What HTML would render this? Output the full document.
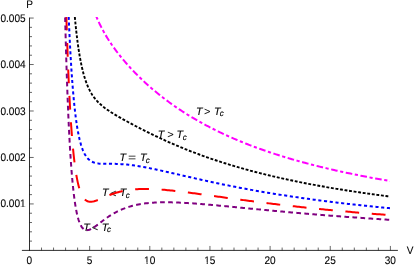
<!DOCTYPE html>
<html><head><meta charset="utf-8"><title>P-V isotherms</title>
<style>
html,body{margin:0;padding:0;background:#fff;}
body{width:415px;height:265px;overflow:hidden;}
svg{display:block;will-change:transform;}
text{font-family:"Liberation Sans",sans-serif;font-size:11.0px;fill:#000;text-rendering:geometricPrecision;stroke:#000;stroke-width:0.1px;}
.it{font-style:italic;font-size:10.7px;stroke-width:0.12px;}
.sub{font-size:8.2px;}
</style></head><body>
<svg width="415" height="265" viewBox="0 0 415 265">
<rect width="415" height="265" fill="#fff"/>
<defs><clipPath id="cp"><rect x="20" y="17" width="369.9" height="240"/></clipPath></defs>
<g>
<text class="it" x="195.89" y="114.60">T</text><text class="it" transform="translate(204.09,115.15) scale(1.0,1)">&gt;</text><text class="it" x="213.99" y="114.60">T</text><text class="it sub" x="219.80" y="116.30">c</text><text class="it" x="157.76" y="137.90">T</text><text class="it" transform="translate(167.19,138.45) scale(1.0,1)">&gt;</text><text class="it" x="176.39" y="137.90">T</text><text class="it sub" x="182.75" y="139.60">c</text><text class="it" x="119.42" y="160.85">T</text><text class="it" transform="translate(127.96,161.05) scale(1.25,1)">=</text><text class="it" x="139.97" y="160.85">T</text><text class="it sub" x="145.63" y="162.55">c</text><text class="it" x="101.89" y="195.90">T</text><text class="it" transform="translate(109.99,196.90) scale(1.0,1)">&lt;</text><text class="it" x="119.69" y="195.90">T</text><text class="it sub" x="125.76" y="197.60">c</text><text class="it" x="83.15" y="230.70">T</text><text class="it" transform="translate(91.87,231.05) scale(1.0,1)">&lt;</text><text class="it" x="101.71" y="230.70">T</text><text class="it sub" x="107.02" y="232.40">c</text>
</g>
<g fill="none" stroke-linecap="butt" stroke-linejoin="round" clip-path="url(#cp)">
<path d="M96.20,16.21L96.78,17.60 97.38,18.98 97.99,20.36 98.62,21.73 99.26,23.09 99.91,24.45 100.58,25.80 101.26,27.15 101.95,28.49 102.66,29.82 103.38,31.14 104.11,32.46 104.86,33.77 105.61,35.07 106.39,36.36 107.17,37.65 107.97,38.93 108.77,40.20 109.59,41.47 110.42,42.72 111.26,43.98 112.12,45.22 112.98,46.45 113.85,47.68 114.74,48.90 115.63,50.12 116.53,51.32 117.44,52.52 118.36,53.72 119.29,54.90 120.23,56.08 121.18,57.25 122.14,58.42 123.10,59.58 124.07,60.73 125.05,61.87 126.04,63.01 127.03,64.15 128.03,65.27 129.04,66.39 130.06,67.50 131.08,68.61 132.11,69.71 133.15,70.80 134.19,71.89 135.24,72.97 136.30,74.04 137.36,75.11 138.43,76.17 139.51,77.23 140.59,78.28 141.68,79.32 142.77,80.36 143.87,81.39 144.98,82.41 146.09,83.43 147.21,84.44 148.33,85.45 149.46,86.45 150.59,87.44 151.73,88.42 152.88,89.40 154.03,90.38 155.18,91.34 156.35,92.30 157.51,93.26 158.68,94.21 159.86,95.15 161.04,96.08 162.23,97.01 163.42,97.93 164.62,98.85 165.82,99.76 167.03,100.66 168.24,101.56 169.45,102.45 170.67,103.33 171.90,104.21 173.13,105.08 174.36,105.95 175.60,106.81 176.84,107.66 178.09,108.50 179.34,109.34 180.60,110.18 181.86,111.00 183.12,111.82 184.39,112.64 185.66,113.45 186.94,114.25 188.22,115.04 189.50,115.83 190.79,116.61 192.08,117.39 193.38,118.16 194.68,118.93 195.98,119.68 197.28,120.44 198.59,121.18 199.91,121.92 201.22,122.66 202.54,123.38 203.87,124.11 205.19,124.82 206.52,125.53 207.85,126.24 209.19,126.94 210.53,127.63 211.87,128.32 213.21,129.00 214.56,129.67 215.91,130.34 217.26,131.01 218.62,131.66 219.98,132.32 221.34,132.96 222.70,133.61 224.07,134.24 225.43,134.87 226.81,135.50 228.18,136.12 229.55,136.74 230.93,137.35 232.31,137.95 233.70,138.55 235.08,139.14 236.47,139.73 237.86,140.32 239.25,140.90 240.64,141.47 242.04,142.04 243.43,142.60 244.83,143.16 246.23,143.72 247.64,144.27 249.04,144.81 250.45,145.35 251.86,145.89 253.27,146.42 254.68,146.95 256.09,147.47 257.51,147.99 258.93,148.50 260.34,149.01 261.76,149.52 263.19,150.02 264.61,150.51 266.03,151.01 267.46,151.49 268.89,151.98 270.31,152.46 271.74,152.93 273.18,153.40 274.61,153.87 276.04,154.34 277.48,154.80 278.91,155.25 280.35,155.70 281.79,156.15 283.23,156.60 284.67,157.04 286.11,157.47 287.56,157.91 289.00,158.34 290.45,158.76 291.89,159.19 293.34,159.61 294.79,160.02 296.24,160.44 297.69,160.84 299.14,161.25 300.59,161.65 302.05,162.05 303.50,162.45 304.95,162.84 306.41,163.23 307.87,163.62 309.32,164.00 310.78,164.38 312.24,164.76 313.70,165.13 315.16,165.50 316.62,165.87 318.09,166.24 319.55,166.60 321.01,166.96 322.48,167.31 323.94,167.67 325.41,168.02 326.87,168.37 328.34,168.71 329.81,169.06 331.28,169.40 332.74,169.73 334.21,170.07 335.68,170.40 337.15,170.73 338.63,171.06 340.10,171.38 341.57,171.71 343.04,172.03 344.51,172.34 345.99,172.66 347.46,172.97 348.94,173.28 350.41,173.59 351.89,173.89 353.36,174.20 354.84,174.50 356.32,174.80 357.80,175.09 359.27,175.39 360.75,175.68 362.23,175.97 363.71,176.26 365.19,176.55 366.67,176.83 368.15,177.11 369.63,177.39 371.11,177.67 372.59,177.94 374.08,178.22 375.56,178.49 377.04,178.76 378.52,179.03 380.01,179.29 381.49,179.56 382.98,179.82 384.46,180.08 385.94,180.34 387.43,180.59 388.91,180.85 390.40,181.10" stroke="#ff00ff" stroke-width="2.0" stroke-dasharray="3.2 2.588 6.6 2.588" stroke-dashoffset="14.576"/>
<path d="M74.76,16.06L74.90,17.56 75.04,19.06 75.18,20.56 75.32,22.07 75.47,23.57 75.62,25.07 75.78,26.57 75.93,28.07 76.09,29.57 76.26,31.07 76.43,32.57 76.60,34.06 76.78,35.56 76.96,37.06 77.14,38.56 77.33,40.05 77.52,41.55 77.72,43.04 77.92,44.54 78.13,46.03 78.35,47.53 78.57,49.02 78.79,50.51 79.03,52.00 79.27,53.49 79.51,54.98 79.77,56.46 80.03,57.95 80.30,59.43 80.59,60.91 80.88,62.40 81.18,63.87 81.49,65.35 81.81,66.82 82.15,68.29 82.49,69.76 82.86,71.23 83.23,72.69 83.62,74.14 84.03,75.59 84.46,77.04 84.91,78.48 85.38,79.91 85.87,81.34 86.38,82.76 86.92,84.17 87.49,85.57 88.08,86.95 88.71,88.32 89.37,89.68 90.06,91.02 90.79,92.34 91.55,93.64 92.36,94.92 93.20,96.17 94.08,97.39 95.00,98.59 95.96,99.75 96.96,100.88 97.99,101.98 99.06,103.05 100.16,104.08 101.29,105.08 102.44,106.06 103.61,107.00 104.81,107.92 106.03,108.81 107.26,109.69 108.50,110.54 109.76,111.37 111.02,112.19 112.30,113.00 113.58,113.79 114.87,114.57 116.17,115.34 117.47,116.11 118.77,116.86 120.08,117.61 121.40,118.35 122.71,119.09 124.03,119.82 125.35,120.55 126.68,121.27 128.00,121.99 129.33,122.70 130.66,123.42 131.99,124.12 133.33,124.83 134.66,125.53 136.00,126.23 137.34,126.93 138.68,127.62 140.02,128.31 141.36,128.99 142.71,129.68 144.05,130.36 145.40,131.03 146.75,131.71 148.10,132.38 149.46,133.05 150.81,133.71 152.17,134.37 153.52,135.03 154.88,135.68 156.25,136.33 157.61,136.97 158.97,137.62 160.34,138.25 161.71,138.89 163.08,139.52 164.45,140.15 165.82,140.77 167.20,141.39 168.58,142.01 169.96,142.62 171.34,143.22 172.72,143.83 174.10,144.43 175.49,145.02 176.88,145.61 178.27,146.20 179.66,146.78 181.05,147.36 182.44,147.94 183.84,148.51 185.24,149.07 186.64,149.64 188.04,150.19 189.44,150.75 190.85,151.30 192.25,151.84 193.66,152.38 195.07,152.92 196.48,153.45 197.89,153.98 199.31,154.51 200.72,155.03 202.14,155.55 203.56,156.06 204.98,156.57 206.40,157.07 207.82,157.57 209.25,158.07 210.67,158.56 212.10,159.05 213.53,159.53 214.96,160.01 216.39,160.49 217.82,160.96 219.26,161.43 220.69,161.90 222.13,162.36 223.57,162.82 225.00,163.27 226.44,163.72 227.88,164.17 229.33,164.61 230.77,165.05 232.21,165.48 233.66,165.92 235.11,166.34 236.55,166.77 238.00,167.19 239.45,167.61 240.90,168.02 242.35,168.43 243.80,168.84 245.26,169.24 246.71,169.64 248.17,170.04 249.62,170.43 251.08,170.83 252.54,171.21 254.00,171.60 255.46,171.98 256.92,172.36 258.38,172.73 259.84,173.10 261.30,173.47 262.77,173.84 264.23,174.20 265.69,174.56 267.16,174.91 268.63,175.27 270.09,175.62 271.56,175.97 273.03,176.31 274.50,176.65 275.97,176.99 277.44,177.33 278.91,177.66 280.38,178.00 281.85,178.32 283.33,178.65 284.80,178.97 286.27,179.29 287.75,179.61 289.22,179.93 290.70,180.24 292.17,180.55 293.65,180.86 295.13,181.17 296.61,181.47 298.08,181.77 299.56,182.07 301.04,182.36 302.52,182.66 304.00,182.95 305.48,183.24 306.96,183.52 308.44,183.81 309.93,184.09 311.41,184.37 312.89,184.65 314.37,184.93 315.86,185.20 317.34,185.47 318.82,185.74 320.31,186.01 321.79,186.27 323.28,186.54 324.76,186.80 326.25,187.06 327.74,187.32 329.22,187.57 330.71,187.82 332.20,188.08 333.68,188.33 335.17,188.57 336.66,188.82 338.15,189.06 339.64,189.31 341.13,189.55 342.62,189.79 344.11,190.02 345.60,190.26 347.09,190.49 348.58,190.73 350.07,190.96 351.56,191.18 353.05,191.41 354.54,191.64 356.03,191.86 357.52,192.08 359.02,192.30 360.51,192.52 362.00,192.74 363.49,192.96 364.99,193.17 366.48,193.38 367.97,193.59 369.47,193.80 370.96,194.01 372.46,194.22 373.95,194.42 375.44,194.63 376.94,194.83 378.43,195.03 379.93,195.23 381.42,195.43 382.92,195.63 384.42,195.82 385.91,196.02 387.41,196.21 388.90,196.40 390.40,196.59" stroke="#000000" stroke-width="1.9" stroke-dasharray="2.9 1.6965" stroke-dashoffset="3.646"/>
<path d="M68.66,16.05L68.73,17.56 68.79,19.07 68.86,20.58 68.92,22.08 68.99,23.59 69.05,25.10 69.12,26.61 69.19,28.12 69.26,29.62 69.33,31.13 69.40,32.64 69.47,34.15 69.54,35.65 69.61,37.16 69.69,38.67 69.76,40.18 69.84,41.68 69.91,43.19 69.99,44.70 70.07,46.21 70.15,47.71 70.23,49.22 70.31,50.73 70.39,52.24 70.48,53.74 70.56,55.25 70.65,56.76 70.73,58.26 70.82,59.77 70.91,61.28 71.00,62.78 71.10,64.29 71.19,65.80 71.28,67.30 71.38,68.81 71.48,70.32 71.58,71.82 71.68,73.33 71.78,74.83 71.89,76.34 72.00,77.85 72.11,79.35 72.22,80.86 72.33,82.36 72.44,83.87 72.56,85.37 72.68,86.88 72.80,88.38 72.92,89.89 73.05,91.39 73.18,92.89 73.31,94.40 73.44,95.90 73.58,97.40 73.72,98.91 73.86,100.41 74.01,101.91 74.16,103.41 74.31,104.92 74.47,106.42 74.63,107.92 74.80,109.42 74.97,110.92 75.14,112.42 75.32,113.92 75.51,115.41 75.70,116.91 75.89,118.41 76.10,119.90 76.30,121.40 76.52,122.89 76.74,124.39 76.97,125.88 77.21,127.37 77.46,128.86 77.72,130.34 77.99,131.83 78.27,133.31 78.57,134.79 78.87,136.27 79.20,137.74 79.53,139.22 79.89,140.68 80.27,142.14 80.67,143.60 81.09,145.05 81.55,146.49 82.03,147.92 82.55,149.33 83.11,150.73 83.72,152.12 84.39,153.47 85.11,154.79 85.91,156.08 86.79,157.30 87.76,158.46 88.83,159.52 89.99,160.48 91.26,161.31 92.60,161.99 94.01,162.54 95.46,162.96 96.93,163.27 98.43,163.48 99.93,163.63 101.44,163.72 102.94,163.77 104.45,163.80 105.96,163.81 107.47,163.82 108.98,163.82 110.49,163.82 112.00,163.83 113.51,163.85 115.02,163.87 116.53,163.92 118.04,163.97 119.54,164.04 121.05,164.13 122.56,164.23 124.06,164.35 125.57,164.48 127.07,164.62 128.57,164.78 130.07,164.95 131.57,165.13 133.06,165.33 134.56,165.54 136.05,165.76 137.54,165.99 139.03,166.23 140.52,166.48 142.01,166.73 143.50,167.00 144.98,167.27 146.46,167.55 147.95,167.84 149.43,168.13 150.91,168.42 152.39,168.73 153.86,169.03 155.34,169.34 156.82,169.66 158.29,169.98 159.77,170.30 161.24,170.62 162.72,170.95 164.19,171.28 165.66,171.61 167.13,171.94 168.61,172.28 170.08,172.61 171.55,172.95 173.02,173.28 174.49,173.62 175.96,173.96 177.43,174.30 178.90,174.64 180.38,174.98 181.85,175.32 183.32,175.66 184.79,175.99 186.26,176.33 187.73,176.67 189.20,177.01 190.67,177.34 192.15,177.68 193.62,178.01 195.09,178.35 196.56,178.68 198.03,179.01 199.51,179.34 200.98,179.67 202.45,179.99 203.93,180.32 205.40,180.64 206.88,180.97 208.35,181.29 209.83,181.61 211.30,181.93 212.78,182.24 214.25,182.56 215.73,182.87 217.21,183.18 218.68,183.49 220.16,183.80 221.64,184.11 223.12,184.41 224.60,184.72 226.08,185.02 227.56,185.32 229.04,185.61 230.52,185.91 232.00,186.20 233.48,186.50 234.96,186.79 236.44,187.07 237.92,187.36 239.40,187.65 240.89,187.93 242.37,188.21 243.85,188.49 245.34,188.77 246.82,189.04 248.31,189.31 249.79,189.59 251.28,189.86 252.76,190.12 254.25,190.39 255.73,190.65 257.22,190.92 258.71,191.18 260.19,191.44 261.68,191.69 263.17,191.95 264.66,192.20 266.15,192.45 267.63,192.70 269.12,192.95 270.61,193.20 272.10,193.44 273.59,193.69 275.08,193.93 276.57,194.17 278.06,194.41 279.55,194.64 281.04,194.88 282.54,195.11 284.03,195.34 285.52,195.57 287.01,195.80 288.50,196.02 290.00,196.25 291.49,196.47 292.98,196.69 294.47,196.91 295.97,197.13 297.46,197.35 298.96,197.57 300.45,197.78 301.94,197.99 303.44,198.20 304.93,198.41 306.43,198.62 307.92,198.83 309.42,199.03 310.92,199.24 312.41,199.44 313.91,199.64 315.40,199.84 316.90,200.04 318.40,200.23 319.89,200.43 321.39,200.62 322.89,200.81 324.38,201.01 325.88,201.20 327.38,201.38 328.88,201.57 330.38,201.76 331.87,201.94 333.37,202.12 334.87,202.31 336.37,202.49 337.87,202.67 339.37,202.85 340.87,203.02 342.36,203.20 343.86,203.37 345.36,203.55 346.86,203.72 348.36,203.89 349.86,204.06 351.36,204.23 352.86,204.40 354.36,204.57 355.86,204.73 357.36,204.90 358.86,205.06 360.36,205.22 361.87,205.38 363.37,205.54 364.87,205.70 366.37,205.86 367.87,206.02 369.37,206.17 370.87,206.33 372.37,206.48 373.88,206.64 375.38,206.79 376.88,206.94 378.38,207.09 379.88,207.24 381.39,207.39 382.89,207.53 384.39,207.68 385.89,207.82 387.39,207.97 388.90,208.11 390.40,208.25" stroke="#0000ff" stroke-width="2.0" stroke-dasharray="3.1 2.6506" stroke-dashoffset="5.001"/>
<path d="M66.36,16.05L66.40,17.55 66.45,19.06 66.49,20.56 66.54,22.07 66.58,23.57 66.63,25.08 66.68,26.58 66.72,28.09 66.77,29.59 66.82,31.10 66.87,32.60 66.92,34.11 66.97,35.61 67.02,37.12 67.07,38.62 67.12,40.12 67.17,41.63 67.22,43.13 67.28,44.64 67.33,46.14 67.38,47.65 67.44,49.15 67.49,50.66 67.55,52.16 67.60,53.66 67.66,55.17 67.71,56.67 67.77,58.18 67.83,59.68 67.89,61.19 67.95,62.69 68.00,64.20 68.06,65.70 68.13,67.20 68.19,68.71 68.25,70.21 68.31,71.72 68.37,73.22 68.44,74.72 68.50,76.23 68.57,77.73 68.64,79.24 68.70,80.74 68.77,82.24 68.84,83.75 68.91,85.25 68.98,86.76 69.05,88.26 69.12,89.76 69.20,91.27 69.27,92.77 69.34,94.27 69.42,95.78 69.50,97.28 69.58,98.78 69.65,100.29 69.73,101.79 69.82,103.29 69.90,104.80 69.98,106.30 70.07,107.80 70.15,109.31 70.24,110.81 70.33,112.31 70.42,113.82 70.51,115.32 70.60,116.82 70.70,118.32 70.79,119.83 70.89,121.33 70.99,122.83 71.09,124.33 71.19,125.83 71.30,127.34 71.41,128.84 71.51,130.34 71.63,131.84 71.74,133.34 71.85,134.84 71.97,136.34 72.09,137.84 72.21,139.34 72.34,140.84 72.47,142.34 72.60,143.84 72.73,145.34 72.87,146.84 73.01,148.34 73.15,149.84 73.30,151.34 73.45,152.84 73.60,154.33 73.76,155.83 73.93,157.33 74.10,158.82 74.27,160.32 74.45,161.81 74.63,163.31 74.82,164.80 75.02,166.29 75.23,167.79 75.44,169.28 75.66,170.76 75.89,172.25 76.13,173.74 76.38,175.22 76.64,176.71 76.91,178.19 77.20,179.66 77.50,181.14 77.82,182.61 78.16,184.08 78.52,185.54 78.90,186.99 79.31,188.44 79.76,189.88 80.24,191.31 80.77,192.72 81.36,194.10 82.01,195.46 82.74,196.77 83.58,198.02 84.54,199.18 85.65,200.19 86.92,201.00 88.32,201.54 89.81,201.78 91.31,201.77 92.80,201.57 94.27,201.22 95.70,200.77 97.12,200.26 98.52,199.71 99.91,199.13 101.29,198.53 102.67,197.93 104.05,197.32 105.43,196.73 106.82,196.14 108.21,195.57 109.61,195.02 111.02,194.48 112.43,193.97 113.86,193.48 115.29,193.02 116.73,192.58 118.18,192.17 119.63,191.78 121.09,191.42 122.56,191.09 124.04,190.78 125.52,190.50 127.00,190.25 128.49,190.02 129.98,189.82 131.47,189.63 132.97,189.48 134.47,189.34 135.97,189.22 137.47,189.13 138.98,189.05 140.48,188.99 141.99,188.95 143.49,188.92 145.00,188.92 146.50,188.92 148.01,188.94 149.51,188.97 151.02,189.02 152.52,189.07 154.03,189.14 155.53,189.22 157.03,189.30 158.53,189.40 160.04,189.50 161.54,189.62 163.04,189.74 164.54,189.87 166.04,190.00 167.54,190.14 169.04,190.29 170.53,190.44 172.03,190.59 173.53,190.76 175.02,190.92 176.52,191.09 178.01,191.26 179.51,191.44 181.00,191.62 182.50,191.80 183.99,191.99 185.49,192.18 186.98,192.37 188.47,192.56 189.96,192.76 191.46,192.95 192.95,193.15 194.44,193.35 195.93,193.55 197.43,193.76 198.92,193.96 200.41,194.16 201.90,194.37 203.39,194.58 204.88,194.78 206.37,194.99 207.86,195.20 209.36,195.40 210.85,195.61 212.34,195.82 213.83,196.03 215.32,196.24 216.81,196.44 218.30,196.65 219.79,196.86 221.28,197.07 222.78,197.28 224.27,197.48 225.76,197.69 227.25,197.89 228.74,198.10 230.23,198.31 231.72,198.51 233.21,198.71 234.71,198.92 236.20,199.12 237.69,199.32 239.18,199.52 240.67,199.72 242.17,199.92 243.66,200.12 245.15,200.32 246.64,200.52 248.14,200.72 249.63,200.91 251.12,201.11 252.61,201.30 254.11,201.49 255.60,201.69 257.09,201.88 258.59,202.07 260.08,202.26 261.57,202.45 263.07,202.63 264.56,202.82 266.06,203.00 267.55,203.19 269.04,203.37 270.54,203.56 272.03,203.74 273.53,203.92 275.02,204.10 276.52,204.28 278.01,204.46 279.51,204.63 281.00,204.81 282.50,204.98 283.99,205.16 285.49,205.33 286.98,205.50 288.48,205.67 289.97,205.84 291.47,206.01 292.97,206.18 294.46,206.35 295.96,206.51 297.46,206.68 298.95,206.84 300.45,207.00 301.94,207.17 303.44,207.33 304.94,207.49 306.44,207.65 307.93,207.80 309.43,207.96 310.93,208.12 312.42,208.27 313.92,208.43 315.42,208.58 316.92,208.73 318.42,208.89 319.91,209.04 321.41,209.19 322.91,209.34 324.41,209.48 325.91,209.63 327.40,209.78 328.90,209.92 330.40,210.07 331.90,210.21 333.40,210.35 334.90,210.49 336.40,210.64 337.89,210.78 339.39,210.92 340.89,211.05 342.39,211.19 343.89,211.33 345.39,211.46 346.89,211.60 348.39,211.73 349.89,211.87 351.39,212.00 352.89,212.13 354.39,212.26 355.89,212.39 357.39,212.52 358.89,212.65 360.39,212.78 361.89,212.91 363.39,213.03 364.89,213.16 366.39,213.28 367.89,213.41 369.39,213.53 370.89,213.65 372.39,213.77 373.89,213.89 375.39,214.02 376.89,214.13 378.39,214.25 379.89,214.37 381.39,214.49 382.89,214.61 384.40,214.72 385.90,214.84 387.40,214.95 388.90,215.07 390.40,215.18" stroke="#ff0000" stroke-width="2.0" stroke-dasharray="13.8 12.647" stroke-dashoffset="25.927"/>
<path d="M65.10,16.05L65.14,17.55 65.18,19.06 65.22,20.56 65.25,22.07 65.29,23.57 65.33,25.08 65.37,26.58 65.41,28.09 65.45,29.59 65.49,31.10 65.53,32.60 65.57,34.11 65.61,35.61 65.65,37.12 65.69,38.62 65.73,40.12 65.77,41.63 65.81,43.13 65.86,44.64 65.90,46.14 65.94,47.65 65.98,49.15 66.03,50.66 66.07,52.16 66.12,53.67 66.16,55.17 66.21,56.68 66.25,58.18 66.30,59.69 66.34,61.19 66.39,62.69 66.44,64.20 66.48,65.70 66.53,67.21 66.58,68.71 66.63,70.22 66.68,71.72 66.73,73.23 66.78,74.73 66.83,76.23 66.88,77.74 66.93,79.24 66.98,80.75 67.03,82.25 67.09,83.76 67.14,85.26 67.19,86.77 67.25,88.27 67.30,89.77 67.36,91.28 67.41,92.78 67.47,94.29 67.53,95.79 67.59,97.30 67.64,98.80 67.70,100.30 67.76,101.81 67.82,103.31 67.88,104.82 67.95,106.32 68.01,107.82 68.07,109.33 68.13,110.83 68.20,112.34 68.26,113.84 68.33,115.34 68.40,116.85 68.46,118.35 68.53,119.85 68.60,121.36 68.67,122.86 68.74,124.37 68.81,125.87 68.89,127.37 68.96,128.88 69.04,130.38 69.11,131.88 69.19,133.39 69.27,134.89 69.35,136.39 69.43,137.90 69.51,139.40 69.59,140.90 69.67,142.41 69.76,143.91 69.85,145.41 69.93,146.91 70.02,148.42 70.11,149.92 70.21,151.42 70.30,152.92 70.39,154.43 70.49,155.93 70.59,157.43 70.69,158.93 70.79,160.43 70.90,161.94 71.00,163.44 71.11,164.94 71.22,166.44 71.34,167.94 71.45,169.44 71.57,170.94 71.69,172.44 71.81,173.94 71.94,175.44 72.07,176.94 72.20,178.44 72.33,179.94 72.47,181.44 72.61,182.94 72.76,184.44 72.91,185.94 73.06,187.43 73.22,188.93 73.39,190.43 73.55,191.92 73.73,193.42 73.91,194.91 74.09,196.41 74.29,197.90 74.49,199.39 74.69,200.88 74.91,202.37 75.13,203.86 75.37,205.35 75.61,206.83 75.87,208.31 76.14,209.79 76.43,211.27 76.73,212.75 77.06,214.22 77.40,215.68 77.77,217.14 78.17,218.59 78.60,220.03 79.08,221.46 79.61,222.87 80.20,224.26 80.87,225.60 81.65,226.89 82.57,228.08 83.67,229.10 84.97,229.85 86.43,230.19 87.93,230.12 89.39,229.75 90.78,229.17 92.11,228.47 93.40,227.69 94.65,226.85 95.88,225.98 97.09,225.09 98.29,224.18 99.49,223.27 100.68,222.35 101.88,221.44 103.08,220.54 104.29,219.64 105.51,218.76 106.74,217.89 107.98,217.03 109.23,216.20 110.50,215.38 111.78,214.59 113.07,213.82 114.37,213.07 115.70,212.35 117.03,211.65 118.38,210.98 119.74,210.34 121.11,209.72 122.50,209.14 123.90,208.58 125.31,208.05 126.72,207.54 128.15,207.07 129.59,206.62 131.04,206.20 132.49,205.81 133.95,205.44 135.41,205.10 136.88,204.78 138.36,204.49 139.84,204.21 141.33,203.96 142.81,203.73 144.30,203.53 145.80,203.34 147.29,203.17 148.79,203.01 150.29,202.88 151.79,202.76 153.29,202.65 154.79,202.56 156.30,202.49 157.80,202.42 159.31,202.37 160.81,202.33 162.32,202.31 163.82,202.29 165.33,202.28 166.83,202.29 168.34,202.30 169.84,202.32 171.35,202.35 172.85,202.38 174.36,202.42 175.86,202.47 177.37,202.53 178.87,202.59 180.37,202.66 181.88,202.73 183.38,202.81 184.88,202.90 186.39,202.98 187.89,203.08 189.39,203.17 190.89,203.27 192.39,203.37 193.90,203.48 195.40,203.59 196.90,203.70 198.40,203.82 199.90,203.94 201.40,204.06 202.90,204.18 204.40,204.30 205.90,204.43 207.40,204.56 208.90,204.69 210.40,204.82 211.90,204.95 213.40,205.09 214.90,205.22 216.40,205.36 217.90,205.50 219.39,205.64 220.89,205.78 222.39,205.92 223.89,206.06 225.39,206.20 226.89,206.34 228.39,206.48 229.89,206.63 231.38,206.77 232.88,206.91 234.38,207.06 235.88,207.20 237.38,207.35 238.88,207.49 240.37,207.64 241.87,207.78 243.37,207.93 244.87,208.07 246.37,208.22 247.87,208.36 249.36,208.50 250.86,208.65 252.36,208.79 253.86,208.94 255.36,209.08 256.86,209.22 258.35,209.37 259.85,209.51 261.35,209.65 262.85,209.79 264.35,209.93 265.85,210.08 267.35,210.22 268.84,210.36 270.34,210.50 271.84,210.64 273.34,210.77 274.84,210.91 276.34,211.05 277.84,211.19 279.34,211.32 280.84,211.46 282.34,211.60 283.83,211.73 285.33,211.87 286.83,212.00 288.33,212.14 289.83,212.27 291.33,212.40 292.83,212.53 294.33,212.66 295.83,212.79 297.33,212.93 298.83,213.05 300.33,213.18 301.83,213.31 303.33,213.44 304.83,213.57 306.33,213.69 307.83,213.82 309.33,213.94 310.83,214.07 312.33,214.19 313.83,214.32 315.33,214.44 316.83,214.56 318.33,214.68 319.83,214.81 321.33,214.93 322.83,215.05 324.33,215.16 325.83,215.28 327.33,215.40 328.83,215.52 330.33,215.64 331.84,215.75 333.34,215.87 334.84,215.98 336.34,216.10 337.84,216.21 339.34,216.32 340.84,216.44 342.34,216.55 343.84,216.66 345.35,216.77 346.85,216.88 348.35,216.99 349.85,217.10 351.35,217.21 352.85,217.31 354.35,217.42 355.85,217.53 357.36,217.63 358.86,217.74 360.36,217.84 361.86,217.95 363.36,218.05 364.86,218.16 366.37,218.26 367.87,218.36 369.37,218.46 370.87,218.56 372.37,218.66 373.88,218.76 375.38,218.86 376.88,218.96 378.38,219.06 379.88,219.16 381.39,219.26 382.89,219.35 384.39,219.45 385.89,219.54 387.40,219.64 388.90,219.73 390.40,219.83" stroke="#800080" stroke-width="2.0" stroke-dasharray="4.72 3.32" stroke-dashoffset="6.710"/>
</g>
<path d="M41.53,250.40L41.53,247.55M53.56,250.40L53.56,247.55M65.59,250.40L65.59,247.55M77.62,250.40L77.62,247.55M89.65,250.40L89.65,245.95M101.68,250.40L101.68,247.55M113.71,250.40L113.71,247.55M125.74,250.40L125.74,247.55M137.77,250.40L137.77,247.55M149.80,250.40L149.80,245.95M161.83,250.40L161.83,247.55M173.86,250.40L173.86,247.55M185.89,250.40L185.89,247.55M197.92,250.40L197.92,247.55M209.95,250.40L209.95,245.95M221.98,250.40L221.98,247.55M234.01,250.40L234.01,247.55M246.04,250.40L246.04,247.55M258.07,250.40L258.07,247.55M270.10,250.40L270.10,245.95M282.13,250.40L282.13,247.55M294.16,250.40L294.16,247.55M306.19,250.40L306.19,247.55M318.22,250.40L318.22,247.55M330.25,250.40L330.25,245.95M342.28,250.40L342.28,247.55M354.31,250.40L354.31,247.55M366.34,250.40L366.34,247.55M378.37,250.40L378.37,247.55M390.40,250.40L390.40,245.95M29.50,241.11L32.00,241.11M29.50,231.81L32.00,231.81M29.50,222.52L32.00,222.52M29.50,213.22L32.00,213.22M29.50,203.93L33.70,203.93M29.50,194.64L32.00,194.64M29.50,185.34L32.00,185.34M29.50,176.05L32.00,176.05M29.50,166.75L32.00,166.75M29.50,157.46L33.70,157.46M29.50,148.17L32.00,148.17M29.50,138.87L32.00,138.87M29.50,129.58L32.00,129.58M29.50,120.28L32.00,120.28M29.50,110.99L33.70,110.99M29.50,101.70L32.00,101.70M29.50,92.40L32.00,92.40M29.50,83.11L32.00,83.11M29.50,73.81L32.00,73.81M29.50,64.52L33.70,64.52M29.50,55.23L32.00,55.23M29.50,45.93L32.00,45.93M29.50,36.64L32.00,36.64M29.50,27.34L32.00,27.34M29.50,18.05L33.70,18.05" fill="none" stroke="#000" stroke-width="0.6"/>
<path d="M21.90,250.40L397.90,250.40M29.50,250.85L29.50,17.60" fill="none" stroke="#0a0a0a" stroke-width="0.85"/>
<g>
<g transform="translate(29.40,263.55) scale(0.915,1)"><text x="-3.058" y="0">0</text></g><g transform="translate(89.55,263.55) scale(0.915,1)"><text x="-3.058" y="0">5</text></g><g transform="translate(149.70,263.55) scale(0.915,1)"><text x="-6.116" y="0">10</text><rect x="-6.116" y="-1.155" width="2.673" height="1.650" fill="#fff"/><rect x="-2.277" y="-1.155" width="2.475" height="1.650" fill="#fff"/></g><g transform="translate(209.85,263.55) scale(0.915,1)"><text x="-6.116" y="0">15</text><rect x="-6.116" y="-1.155" width="2.673" height="1.650" fill="#fff"/><rect x="-2.277" y="-1.155" width="2.475" height="1.650" fill="#fff"/></g><g transform="translate(270.00,263.55) scale(0.915,1)"><text x="-6.116" y="0">20</text></g><g transform="translate(330.15,263.55) scale(0.915,1)"><text x="-6.116" y="0">25</text></g><g transform="translate(390.30,263.55) scale(0.915,1)"><text x="-6.116" y="0">30</text></g><g transform="translate(25.60,207.48) scale(0.915,1)"><text x="-27.522" y="0">0.001</text><rect x="-6.116" y="-1.155" width="2.673" height="1.650" fill="#fff"/><rect x="-2.277" y="-1.155" width="2.475" height="1.650" fill="#fff"/></g><g transform="translate(25.60,161.01) scale(0.915,1)"><text x="-27.522" y="0">0.002</text></g><g transform="translate(25.60,114.54) scale(0.915,1)"><text x="-27.522" y="0">0.003</text></g><g transform="translate(25.60,68.07) scale(0.915,1)"><text x="-27.522" y="0">0.004</text></g><g transform="translate(25.60,21.60) scale(0.915,1)"><text x="-27.522" y="0">0.005</text></g><g transform="translate(29.15,7.60) scale(0.915,1)"><text x="-3.058" y="0">P</text></g><g transform="translate(409.65,253.60) scale(0.915,1)"><text x="-3.058" y="0">V</text></g>
</g>
</svg>
</body></html>
